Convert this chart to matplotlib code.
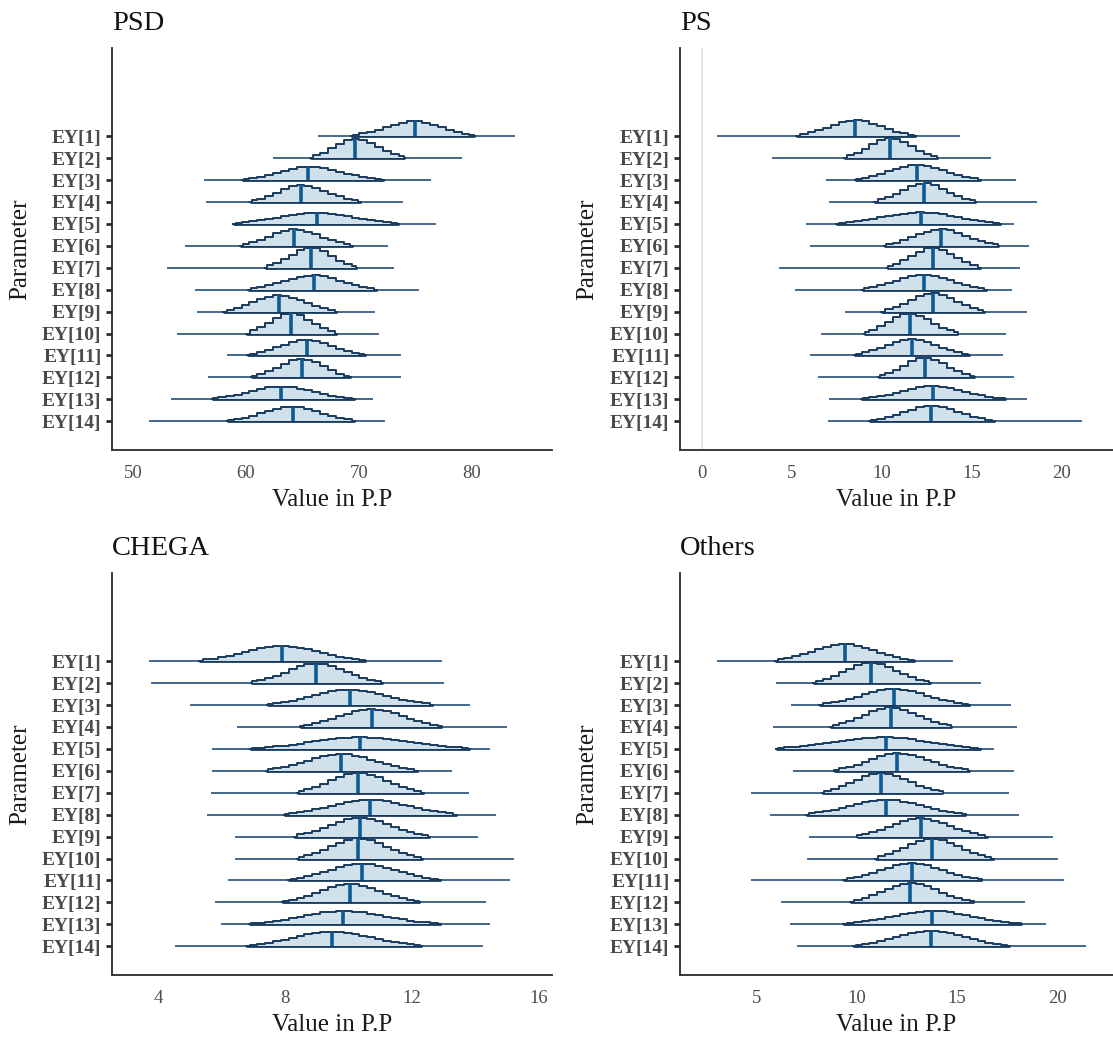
import numpy as np
import matplotlib
matplotlib.use("Agg")
import matplotlib.pyplot as plt

params = [f"EY[{i}]" for i in range(1, 15)]

# ---- PSD ----
psd_med = [75.0, 69.7, 65.5, 64.9, 66.3, 64.3, 65.8, 66.0, 62.9, 64.0, 65.4, 65.0, 63.1, 64.2]
psd_olo = [69.3, 65.7, 59.7, 60.4, 58.9, 59.5, 61.7, 60.2, 58.0, 60.0, 60.1, 60.5, 57.0, 58.3]
psd_ohi = [80.3, 74.1, 72.2, 70.2, 73.6, 69.5, 69.8, 71.6, 68.1, 68.1, 70.6, 69.3, 69.7, 69.7]
psd_min = [66.4, 62.4, 56.3, 56.5, 58.8, 54.6, 53.0, 55.5, 55.7, 53.9, 58.3, 56.7, 53.4, 51.4]
psd_max = [83.8, 79.1, 76.4, 73.9, 76.8, 72.6, 73.1, 75.3, 71.4, 71.8, 73.7, 73.7, 71.3, 72.3]

# ---- PS ----
ps_med = [8.52, 10.49, 11.95, 12.34, 12.2, 13.29, 12.85, 12.36, 12.85, 11.57, 11.67, 12.4, 12.85, 12.76]
ps_olo = [5.26, 7.9, 8.52, 9.6, 7.44, 10.14, 10.28, 8.9, 9.98, 9.0, 8.46, 9.8, 8.86, 9.31]
ps_ohi = [11.9, 13.13, 15.55, 15.26, 16.63, 16.54, 15.55, 15.85, 15.75, 14.27, 14.92, 15.2, 16.93, 16.28]
ps_min = [0.83, 3.92, 6.93, 7.09, 5.81, 6.0, 4.27, 5.18, 7.97, 6.63, 6.0, 6.46, 7.09, 6.99]
ps_max = [14.37, 16.08, 17.46, 18.64, 17.36, 18.2, 17.72, 17.26, 18.07, 16.93, 16.73, 17.38, 18.11, 21.16]

# ---- CHEGA ----
ch_med = [7.9, 8.98, 10.05, 10.73, 10.35, 9.75, 10.31, 10.67, 10.35, 10.31, 10.43, 10.05, 9.83, 9.49]
ch_olo = [5.28, 6.92, 7.43, 8.48, 6.9, 7.4, 8.37, 7.97, 8.28, 8.37, 8.1, 7.9, 6.86, 6.77]
ch_ohi = [10.56, 11.08, 12.67, 12.97, 13.85, 12.2, 12.4, 13.42, 12.57, 12.35, 12.93, 12.26, 12.93, 12.31]
ch_min = [3.69, 3.75, 5.0, 6.47, 5.7, 5.7, 5.65, 5.54, 6.41, 6.41, 6.2, 5.79, 5.96, 4.51]
ch_max = [12.97, 13.03, 13.85, 15.0, 14.48, 13.28, 13.8, 14.67, 14.1, 15.23, 15.09, 14.36, 14.46, 14.25]

# ---- Others ----
ot_med = [9.4, 10.7, 11.86, 11.68, 11.45, 12.02, 11.22, 11.45, 13.17, 13.73, 12.75, 12.66, 13.73, 13.67]
ot_olo = [5.91, 7.8, 8.13, 8.69, 5.98, 8.87, 8.25, 7.49, 10.0, 10.89, 9.33, 9.68, 9.33, 9.82]
ot_ohi = [12.9, 13.67, 15.62, 14.73, 16.19, 15.62, 14.29, 15.44, 16.51, 16.81, 16.24, 15.83, 18.23, 17.63]
ot_min = [3.05, 5.98, 6.74, 5.82, 5.94, 6.83, 4.75, 5.67, 7.63, 7.54, 4.75, 6.24, 6.65, 7.04]
ot_max = [14.79, 16.19, 17.66, 17.98, 16.83, 17.8, 17.57, 18.05, 19.76, 20.03, 20.33, 18.37, 19.44, 21.39]

titles = ["PSD", "PS", "CHEGA", "Others"]
xticks_list = [[50, 60, 70, 80], [0, 5, 10, 15, 20], [4, 8, 12, 16], [5, 10, 15, 20]]
xlims = [(48.16, 87.1), (-1.22, 22.87), (2.53, 16.43), (1.2, 22.75)]

FILL = "#d1e1ec"
OUTLINE = "#173a5e"
BASE = "#24507a"
MEDC = "#0f5a92"
SERIF = "Liberation Serif"

W, H = 1113, 1043
fig = plt.figure(figsize=(W / 100, H / 100), dpi=100)
fig.patch.set_facecolor("white")

boxes = [(112, 552, 48, 450), (680, 1113, 48, 450), (112, 552, 573, 975), (680, 1113, 573, 975)]


def panel(ax, med, olo, ohi, vmin, vmax, title, xlim, xticks, ylab_x, zero_line=False):
    n = len(med)
    ys = np.arange(n, 0, -1).astype(float)
    k = 2.3
    step = (xlim[1] - xlim[0]) / 56.0
    grid = np.arange(xlim[0], xlim[1] + step, step)
    curves = []
    for i in range(n):
        sl = (med[i] - olo[i]) / k
        sr = (ohi[i] - med[i]) / k
        inside = grid[(grid > olo[i]) & (grid < ohi[i])]
        xs = np.concatenate([[olo[i]], inside, [ohi[i]]])
        s = np.where(xs < med[i], sl, sr)
        ds = 2.0 / (np.sqrt(2 * np.pi) * (sl + sr)) * np.exp(-0.5 * ((xs - med[i]) / s) ** 2)
        ds[0] = 0.0
        ds[-1] = 0.0
        j = np.argmin(np.abs(xs - med[i]))
        curves.append((xs, ds, ds[j]))
    dmax = max(c[1].max() for c in curves)
    scale = 0.92 / dmax

    if zero_line:
        ax.axvline(0, color="#e3e3e3", lw=1.2, zorder=0)

    for i in range(n):
        y0 = ys[i]
        xs, ds, dm = curves[i]
        z = i * 0.01
        ax.plot([vmin[i], vmax[i]], [y0, y0], color=BASE, lw=1.2, zorder=2 + z,
                solid_capstyle="butt")
        ax.plot([olo[i], ohi[i]], [y0, y0], color=OUTLINE, lw=2.0, zorder=2 + z,
                solid_capstyle="butt")
        ax.fill_between(xs, y0, y0 + ds * scale, step="mid", color=FILL, lw=0,
                        zorder=3 + z)
        ax.plot(xs, y0 + ds * scale, drawstyle="steps-mid", color=OUTLINE, lw=1.4,
                zorder=3.5 + z)
        ax.plot([med[i], med[i]], [y0, y0 + dm * scale], color=MEDC, lw=2.6,
                zorder=3.6 + z, solid_capstyle="butt")

    ax.set_xlim(*xlim)
    ax.set_ylim(1 - 1.31, n + 4.02)
    ax.set_yticks(ys)
    ax.set_yticklabels(params, fontfamily=SERIF, fontweight="bold", fontsize=14,
                       color="#4a4a4a")
    ax.set_xticks(xticks)
    ax.set_xticklabels([str(t) for t in xticks], fontfamily=SERIF, fontsize=13.5,
                       color="#4d4d4d")
    ax.tick_params(axis="y", length=4.5, width=2.0, color="#2b2b2b", pad=3)
    ax.tick_params(axis="x", length=0, pad=11)
    for s in ["top", "right"]:
        ax.spines[s].set_visible(False)
    for s in ["left", "bottom"]:
        ax.spines[s].set_color("#2b2b2b")
        ax.spines[s].set_linewidth(1.3)
    ax.set_xlabel("Value in P.P", fontfamily=SERIF, fontsize=18, color="#1a1a1a", labelpad=5)
    ax.set_ylabel("Parameter", fontfamily=SERIF, fontsize=18, color="#1a1a1a")
    ax.yaxis.set_label_coords(ylab_x, 0.5)
    ax.set_title(title, loc="left", fontfamily=SERIF, fontsize=20.5, color="#111111", pad=13)


data = [
    (psd_med, psd_olo, psd_ohi, psd_min, psd_max),
    (ps_med, ps_olo, ps_ohi, ps_min, ps_max),
    (ch_med, ch_olo, ch_ohi, ch_min, ch_max),
    (ot_med, ot_olo, ot_ohi, ot_min, ot_max),
]

for idx, (l, r, t, b) in enumerate(boxes):
    ax = fig.add_axes([l / W, 1 - b / H, (r - l) / W, (b - t) / H])
    m, lo, hi, mn, mx = data[idx]
    ylab_x = (31 - l) / (r - l) if l < 300 else (598 - l) / (r - l)
    panel(ax, m, lo, hi, mn, mx, titles[idx], xlims[idx], xticks_list[idx], ylab_x,
          zero_line=(idx == 1))

fig.savefig("out.png", dpi=100, facecolor="white")
